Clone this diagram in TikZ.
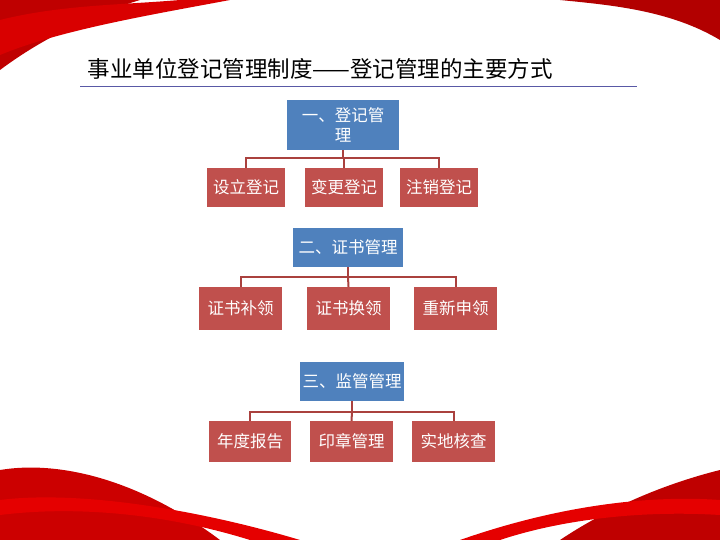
\documentclass[tikz,border=0pt]{standalone}
\usepackage{fontspec}
\setmainfont{Noto Sans CJK SC}
\begin{document}
\begin{tikzpicture}[x=1pt,y=-1pt,
 blu/.style={fill={rgb,255:red,79;green,129;blue,189},text=white,inner sep=0pt,font=\fontsize{16.5}{20}\selectfont,align=center},
 rdb/.style={fill={rgb,255:red,192;green,80;blue,77},text=white,inner sep=0pt,font=\fontsize{16.5}{20}\selectfont},
 con/.style={draw={rgb,255:red,170;green,65;blue,62},line width=2pt}]
\useasboundingbox (0,0) rectangle (720,540);
\fill[white] (0,0) rectangle (720,540);
% ribbons
\fill[red!75!black] (0,0) -- (140,0) .. controls (90,15) and (40,40) .. (0,70) -- cycle;
\fill[red!85!black] (0,20) .. controls (60,5) and (120,5) .. (180,0) -- (230,0) .. controls (150,15) and (60,30) .. (0,55) -- cycle;
\fill[red!70!black] (560,0) -- (720,0) -- (720,40) .. controls (670,10) and (610,5) .. (560,0) -- cycle;
\fill[red!80!black] (0,540) -- (0,470) .. controls (60,460) and (140,480) .. (220,540) -- cycle;
\fill[red!90!black] (0,500) .. controls (80,490) and (200,510) .. (300,540) -- (250,540) .. controls (170,515) and (80,505) .. (0,515) -- cycle;
\fill[red!75!black] (720,540) -- (560,540) .. controls (620,500) and (680,480) .. (720,470) -- cycle;
\fill[red!90!black] (460,540) .. controls (560,505) and (650,495) .. (720,500) -- (720,515) .. controls (640,510) and (560,520) .. (500,540) -- cycle;
% title
\node[anchor=base west,font=\fontsize{22.5}{26}\selectfont] (t) at (84,78) {事业单位登记管理制度——登记管理的主要方式};
\draw[gray!70!blue,line width=0.8pt] (80,86) -- (637,86);
% group 1
\node[blu,minimum width=112,minimum height=50] (a) at (343,125) {一、登记管\\理};
\node[rdb,minimum width=78,minimum height=39] (a1) at (246,187.5) {设立登记};
\node[rdb,minimum width=78,minimum height=39] (a2) at (344,187.5) {变更登记};
\node[rdb,minimum width=78,minimum height=39] (a3) at (439,187.5) {注销登记};
\coordinate (ja) at (343,158);
\draw[con] (a.south) -- (ja); \draw[con] (a1.north) |- (ja) -| (a3.north); \draw[con] (ja) -| (a2.north);
% group 2
\node[blu,minimum width=110,minimum height=39] (b) at (348,247.5) {二、证书管理};
\node[rdb,minimum width=83,minimum height=43] (b1) at (240.5,308.5) {证书补领};
\node[rdb,minimum width=83,minimum height=43] (b2) at (348.5,308.5) {证书换领};
\node[rdb,minimum width=83,minimum height=43] (b3) at (455.5,308.5) {重新申领};
\coordinate (jb) at (348,277);
\draw[con] (b.south) -- (jb); \draw[con] (b1.north) |- (jb) -| (b3.north); \draw[con] (jb) -- (b2.north);
% group 3
\node[blu,minimum width=104,minimum height=39] (c) at (352,381.5) {三、监管管理};
\node[rdb,minimum width=82,minimum height=41] (c1) at (250,441.5) {年度报告};
\node[rdb,minimum width=83,minimum height=41] (c2) at (351.5,441.5) {印章管理};
\node[rdb,minimum width=83,minimum height=41] (c3) at (453.5,441.5) {实地核查};
\coordinate (jc) at (352,412);
\draw[con] (c.south) -- (jc); \draw[con] (c1.north) |- (jc) -| (c3.north); \draw[con] (jc) -- (c2.north);
\end{tikzpicture}
\end{document}
